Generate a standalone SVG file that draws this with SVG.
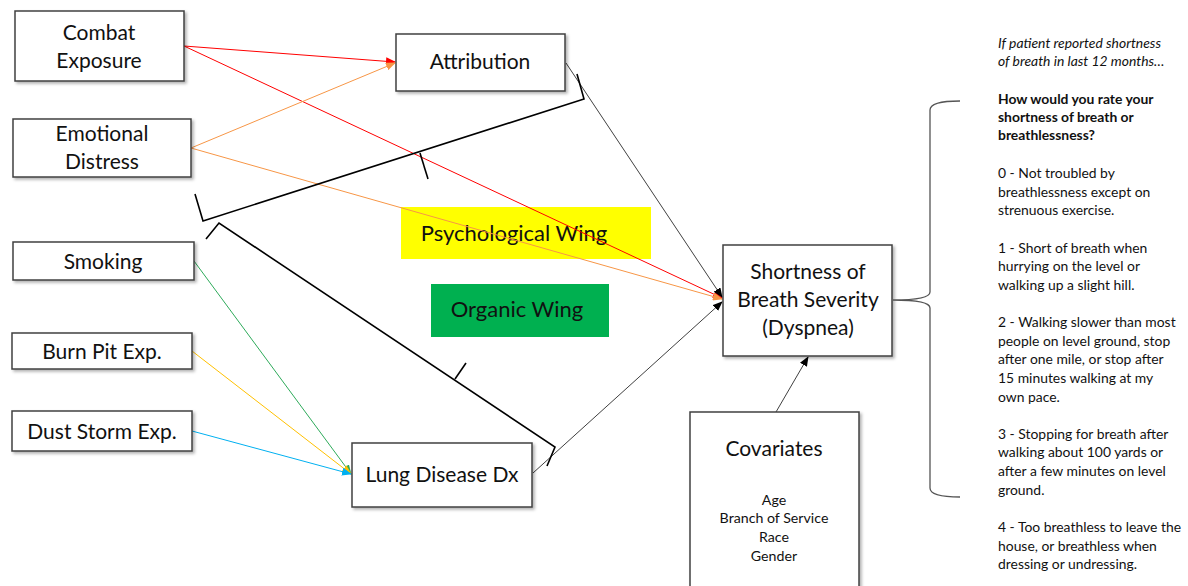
<svg xmlns="http://www.w3.org/2000/svg" width="1188" height="586" viewBox="0 0 1188 586">
<style>
.box{fill:#fff;stroke:#404040;stroke-width:1.5;filter:url(#sh)}
.t{font-family:Lato,"Noto Sans",sans-serif;font-size:21px;fill:#111;text-anchor:middle}
.ts{font-family:Lato,"Noto Sans",sans-serif;font-size:14.2px;fill:#111;text-anchor:middle}
.r{font-family:Lato,"Noto Sans",sans-serif;font-size:13.9px;fill:#111}
.c{fill:none;stroke-width:1}
.br{fill:none;stroke:#000;stroke-width:1.6}
</style>
<defs>
<filter id="sh" x="-10%" y="-10%" width="130%" height="130%"><feDropShadow dx="2" dy="2" stdDeviation="1.5" flood-color="#000" flood-opacity="0.3"/></filter>
<marker id="mr" markerWidth="10" markerHeight="8" refX="9" refY="4" orient="auto" markerUnits="userSpaceOnUse"><path d="M0,0 L10,4 L0,8 z" fill="#FF0000"/></marker>
<marker id="mo" markerWidth="10" markerHeight="8" refX="9" refY="4" orient="auto" markerUnits="userSpaceOnUse"><path d="M0,0 L10,4 L0,8 z" fill="#F79646"/></marker>
<marker id="mk" markerWidth="10" markerHeight="8" refX="9" refY="4" orient="auto" markerUnits="userSpaceOnUse"><path d="M0,0 L10,4 L0,8 z" fill="#000"/></marker>
<marker id="mg" markerWidth="10" markerHeight="8" refX="9" refY="4" orient="auto" markerUnits="userSpaceOnUse"><path d="M0,0 L10,4 L0,8 z" fill="#2EAA5A"/></marker>
<marker id="my" markerWidth="10" markerHeight="8" refX="9" refY="4" orient="auto" markerUnits="userSpaceOnUse"><path d="M0,0 L10,4 L0,8 z" fill="#FFC000"/></marker>
<marker id="mb" markerWidth="10" markerHeight="8" refX="9" refY="4" orient="auto" markerUnits="userSpaceOnUse"><path d="M0,0 L10,4 L0,8 z" fill="#00B0F0"/></marker>
</defs>
<rect width="1188" height="586" fill="#fff"/>

<g id="wing-psych">
<rect x="401" y="207" width="250" height="52" fill="#FFFF00"/>
<text x="514" y="241" class="t" style="font-size:22px">Psychological Wing</text>
</g>
<g id="wing-organic">
<rect x="431" y="284" width="178" height="53" fill="#00B050"/>
<text x="517" y="317" class="t" style="font-size:22px">Organic Wing</text>
</g>

<g id="connectors">
<line class="c" stroke="#FF0000" x1="184" y1="46" x2="395" y2="62" marker-end="url(#mr)"/>
<line class="c" stroke="#FF0000" x1="184" y1="46" x2="722" y2="298" marker-end="url(#mr)"/>
<line class="c" stroke="#F79646" x1="191" y1="148" x2="395" y2="63" marker-end="url(#mo)"/>
<line class="c" stroke="#F79646" x1="191" y1="148" x2="722" y2="299" marker-end="url(#mo)"/>
<line class="c" stroke="#404040" x1="566" y1="63" x2="722" y2="297" marker-end="url(#mk)"/>
<line class="c" stroke="#404040" x1="533" y1="473" x2="722" y2="302" marker-end="url(#mk)"/>
<line class="c" stroke="#404040" x1="776" y1="412" x2="808" y2="357" marker-end="url(#mk)"/>
<line class="c" stroke="#2EAA5A" x1="194" y1="261" x2="351" y2="474" marker-end="url(#mg)"/>
<line class="c" stroke="#FFC000" x1="192" y1="351" x2="351" y2="474" marker-end="url(#my)"/>
<line class="c" stroke="#00B0F0" x1="192" y1="431" x2="351" y2="474" marker-end="url(#mb)"/>
</g>

<g id="bracket-psych">
<polyline class="br" points="195,194 203,221 584,99 577,74"/>
<line class="br" x1="420" y1="153" x2="428" y2="179"/>
</g>
<g id="bracket-organic">
<polyline class="br" points="206,239 219,223 555,447 547,466"/>
<line class="br" x1="455" y1="379" x2="466" y2="363"/>
</g>

<g id="combat">
<rect class="box" x="15" y="11" width="169" height="70"/>
<text class="t" x="99" y="40">Combat</text>
<text class="t" x="99" y="68">Exposure</text>
</g>
<g id="emotional">
<rect class="box" x="13" y="119" width="178" height="58"/>
<text class="t" x="102" y="141">Emotional</text>
<text class="t" x="102" y="169">Distress</text>
</g>
<g id="attribution">
<rect class="box" x="396" y="34" width="169" height="57"/>
<text class="t" x="480" y="69">Attribution</text>
</g>
<g id="smoking">
<rect class="box" x="13" y="242" width="181" height="38"/>
<text class="t" x="103" y="269">Smoking</text>
</g>
<g id="burnpit">
<rect class="box" x="12" y="333" width="180" height="36"/>
<text class="t" x="102" y="359">Burn Pit Exp.</text>
</g>
<g id="duststorm">
<rect class="box" x="12" y="411" width="180" height="40"/>
<text class="t" x="102" y="439">Dust Storm Exp.</text>
</g>
<g id="lung">
<rect class="box" x="352" y="443" width="180" height="64"/>
<text class="t" x="442" y="482">Lung Disease Dx</text>
</g>
<g id="dyspnea">
<rect class="box" x="723" y="245" width="169" height="111"/>
<text class="t" x="808" y="279">Shortness of</text>
<text class="t" x="808" y="307">Breath Severity</text>
<text class="t" x="808" y="335">(Dyspnea)</text>
</g>
<g id="covariates">
<rect class="box" x="690" y="412" width="169" height="190"/>
<text class="t" x="774" y="456">Covariates</text>
<text class="ts" x="774" y="505">Age</text>
<text class="ts" x="774" y="523">Branch of Service</text>
<text class="ts" x="774" y="542">Race</text>
<text class="ts" x="774" y="561">Gender</text>
</g>

<g id="brace">
<path d="M960,101 Q930,101 930,110 L930,292 Q930,300 893,300 Q930,300 930,308 L930,488 Q930,497 960,497" fill="none" stroke="#555" stroke-width="1.3"/>
</g>

<g id="scale-text">
<text class="r" x="998" y="48" font-style="italic">If patient reported shortness</text>
<text class="r" x="998" y="66" font-style="italic">of breath in last 12 months…</text>
<text class="r" x="998" y="104" font-weight="bold">How would you rate your</text>
<text class="r" x="998" y="122" font-weight="bold">shortness of breath or</text>
<text class="r" x="998" y="140" font-weight="bold">breathlessness?</text>
<text class="r" x="998" y="178">0 - Not troubled by</text>
<text class="r" x="998" y="197">breathlessness except on</text>
<text class="r" x="998" y="215">strenuous exercise.</text>
<text class="r" x="998" y="253">1 - Short of breath when</text>
<text class="r" x="998" y="271">hurrying on the level or</text>
<text class="r" x="998" y="290">walking up a slight hill.</text>
<text class="r" x="998" y="327">2 - Walking slower than most</text>
<text class="r" x="998" y="346">people on level ground, stop</text>
<text class="r" x="998" y="364">after one mile, or stop after</text>
<text class="r" x="998" y="383">15 minutes walking at my</text>
<text class="r" x="998" y="402">own pace.</text>
<text class="r" x="998" y="439">3 - Stopping for breath after</text>
<text class="r" x="998" y="457">walking about 100 yards or</text>
<text class="r" x="998" y="476">after a few minutes on level</text>
<text class="r" x="998" y="495">ground.</text>
<text class="r" x="998" y="532">4 - Too breathless to leave the</text>
<text class="r" x="998" y="551">house, or breathless when</text>
<text class="r" x="998" y="569">dressing or undressing.</text>
</g>
</svg>
